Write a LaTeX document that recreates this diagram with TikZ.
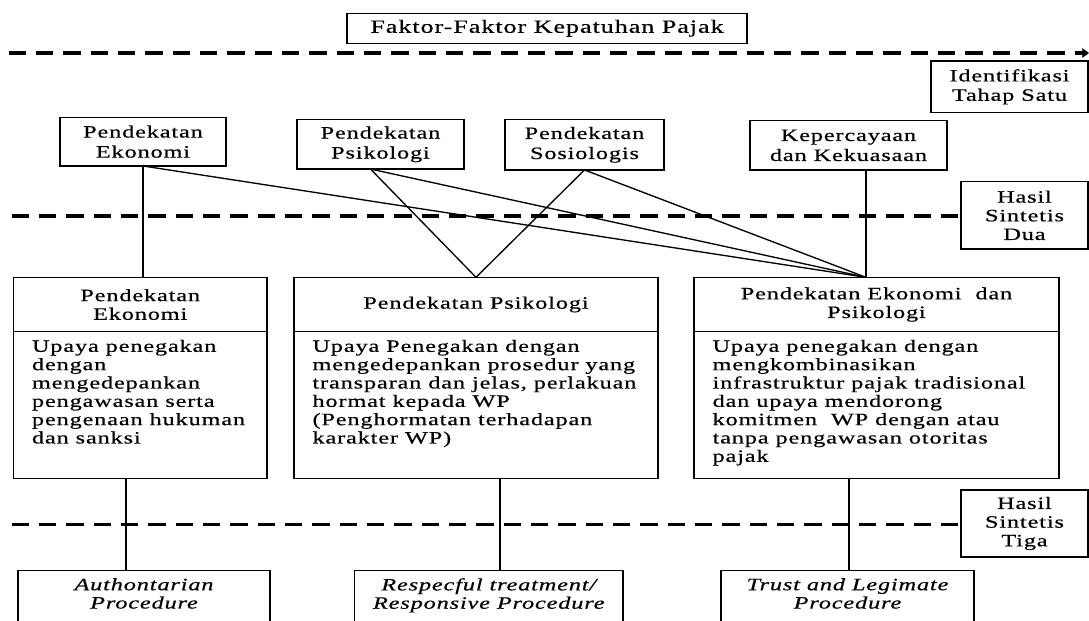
\documentclass[tikz,border=0pt]{standalone}
\usepackage{fontspec}
\setmainfont{Liberation Serif}[FakeStretch=1.4,LetterSpace=5,FakeBold=0.5]
\usetikzlibrary{calc,arrows.meta}
\begin{document}
\begin{tikzpicture}[x=0.75pt,y=-0.75pt,
  every node/.style={inner sep=0pt,outer sep=0pt},
  boxline/.style={draw,line width=1pt},
  sbox/.style={boxline,anchor=north west,align=center,font=\fontsize{13}{15}\selectfont},
  lbox/.style={boxline,anchor=north west},
  body/.style={anchor=north west,align=left,font=\fontsize{13}{13.75}\selectfont},
  head/.style={align=center,font=\fontsize{13}{14}\selectfont},
  proctext/.style={anchor=north,align=center,font=\fontsize{13}{13.75}\selectfont\itshape},
  sep/.style={line width=2.4pt,dash pattern=on 13pt off 7.5pt},
  link/.style={line width=1pt},
]
\path[use as bounding box] (0,0) rectangle (1089,621);
\clip (0,0) rectangle (1089,621);

% top title and stage labels
\node[sbox,minimum width=300pt,minimum height=22.5pt,font=\fontsize{14}{15}\selectfont] (title) at (347,13.3) {Faktor-Faktor Kepatuhan Pajak};
\node[sbox,minimum width=117.75pt,minimum height=38.75pt,font=\fontsize{13}{14.5}\selectfont] (ident) at (931,61) {Identifikasi\\Tahap Satu};
\node[sbox,minimum width=95.25pt,minimum height=50.5pt,font=\fontsize{13}{14}\selectfont] (hasil2) at (961,181.7) {Hasil\\Sintetis\\Dua};
\node[sbox,minimum width=95.25pt,minimum height=50.25pt,font=\fontsize{13}{14}\selectfont] (hasil3) at (961,490) {Hasil\\Sintetis\\Tiga};

% dashed stage separators
\coordinate (l1a) at (8.7,53);
\coordinate (l1b) at (1089,53);
\draw[sep,-{Triangle[length=5pt,width=7pt]}] (l1a) -- (l1b);
\coordinate (l2) at (11.5,216);
\draw[sep] (l2) -- (l2 -| hasil2.west);
\coordinate (l3) at (11.5,524.3);
\draw[sep] (l3) -- (l3 -| hasil3.west);

% first-stage boxes
\node[sbox,minimum width=124.5pt,minimum height=36.5pt] (t1) at (60,117.3) {Pendekatan\\Ekonomi};
\node[sbox,minimum width=125.25pt,minimum height=37pt] (t2) at (297,119.7) {Pendekatan\\Psikologi};
\node[sbox,minimum width=119.25pt,minimum height=37.7pt] (t3) at (505,119.7) {Pendekatan\\Sosiologis};
\node[sbox,minimum width=147.75pt,minimum height=37pt] (t4) at (750,120.7) {Kepercayaan\\dan Kekuasaan};

% second-stage boxes
\node[lbox,minimum width=190.1pt,minimum height=151pt] (m1) at (13.5,277.3) {};
\node[lbox,minimum width=273pt,minimum height=151pt] (m2) at (294,277.3) {};
\node[lbox,minimum width=273.75pt,minimum height=151pt] (m3) at (694,277.3) {};
\foreach \m in {m1,m2,m3}{
  \draw[boxline] ($(\m.north west)+(0,54.4)$) -- ($(\m.north east)+(0,54.4)$);
}
\node[head] at ($(m1.north)+(0,27.2)$) {Pendekatan\\Ekonomi};
\node[head] at ($(m2.north)+(0,27.2)$) {Pendekatan Psikologi};
\node[head] at ($(m3.north)+(0,27.2)$) {Pendekatan Ekonomi\ \ dan\\Psikologi};
\node[body] at ($(m1.north west)+(18.5,62.5)$) {Upaya penegakan\\dengan\\mengedepankan\\pengawasan serta\\pengenaan hukuman\\dan sanksi};
\node[body] at ($(m2.north west)+(18.5,62.5)$) {Upaya Penegakan dengan\\mengedepankan prosedur yang\\transparan dan jelas, perlakuan\\hormat kepada WP\\(Penghormatan terhadapan\\karakter WP)};
\node[body] at ($(m3.north west)+(18.6,62.5)$) {Upaya penegakan dengan\\mengkombinasikan\\infrastruktur pajak tradisional\\dan upaya mendorong\\komitmen\ \ WP dengan atau\\tanpa pengawasan otoritas\\pajak};

% third-stage boxes
\node[lbox,minimum width=189pt,minimum height=52.5pt] (b1) at (18,570.7) {};
\node[lbox,minimum width=201.4pt,minimum height=52.5pt] (b2) at (354.5,570.7) {};
\node[lbox,minimum width=189.75pt,minimum height=52.5pt] (b3) at (721,570.7) {};
\node[proctext] at ($(b1.north)+(0,7.5)$) {Authontarian\\Procedure};
\node[proctext] at ($(b2.north)+(0,7.5)$) {Respecful treatment/\\Responsive Procedure};
\node[proctext] at ($(b3.north)+(0,7.5)$) {Trust and Legimate\\Procedure};

% connectors stage one -> two
\coordinate (c3) at ($(m3.north west)!0.471!(m3.north east)$);
\coordinate (p2) at ($(t2.south)+(-10,0)$);
\draw[link] (t1.south) -- (t1.south |- m1.north);
\draw[link] (t1.south) -- (c3);
\draw[link] (p2) -- (m2.north);
\draw[link] (p2) -- (c3);
\draw[link] (t3.south) -- (m2.north);
\draw[link] (t3.south) -- (c3);
\draw[link] (c3 |- t4.south) -- (c3);

% connectors stage two -> three
\coordinate (d1) at ($(m1.south west)!0.444!(m1.south east)$);
\coordinate (d2) at ($(m2.south west)!0.566!(m2.south east)$);
\coordinate (d3) at ($(m3.south west)!0.425!(m3.south east)$);
\draw[link] (d1) -- (d1 |- b1.north);
\draw[link] (d2) -- (d2 |- b2.north);
\draw[link] (d3) -- (d3 |- b3.north);
\end{tikzpicture}
\end{document}
